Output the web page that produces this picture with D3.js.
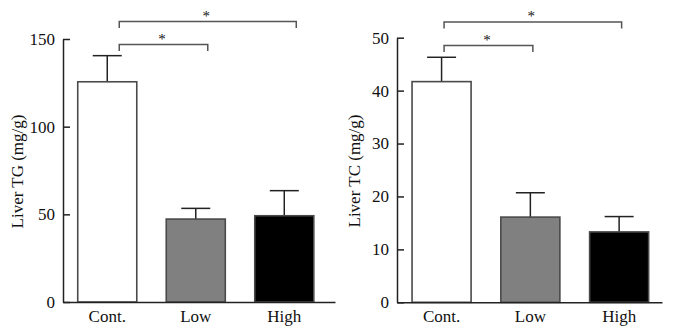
<!DOCTYPE html>
<html>
<head>
<meta charset="utf-8">
<script src="https://cdn.jsdelivr.net/npm/d3@7"></script>
<style>
  html, body { margin: 0; padding: 0; background: #fff; }
  svg { display: block; }
  text { font-family: "Liberation Serif", "DejaVu Serif", serif; fill: #111; }
</style>
</head>
<body>
<svg id="chart" width="674" height="335"></svg>
<script>
// ---- data ----
const categories = ["Cont.", "Low", "High"];
const barFills = ["#ffffff", "#808080", "#000000"];

const tgMeans = [125.6, 47.3, 49.2];
const tgErrors = [14.9, 6.1, 14.3];
const tgTicks = [0, 50, 100, 150];
const tgLabel = "Liver TG (mg/g)";

const tcMeans = [41.7, 16.1, 13.3];
const tcErrors = [4.6, 4.6, 2.9];
const tcTicks = [0, 10, 20, 30, 40, 50];
const tcLabel = "Liver TC (mg/g)";

// significance comparisons: [from index, to index, label]
const comparisons = [[0, 1, "*"], [0, 2, "*"]];

// ---- layout ----
const svg = d3.select("#chart");
const FONT = "Liberation Serif";

function drawPanel(opt) {
  const g = svg.append("g");
  const x = d3.scaleBand()
    .domain(categories)
    .range([opt.x0, opt.x1])
    .paddingInner(opt.padIn)
    .paddingOuter(opt.padOut)
    .align(opt.align);
  const y = d3.scaleLinear()
    .domain([0, opt.ticks[opt.ticks.length - 1]])
    .range([opt.yBottom, opt.yTop]);

  const data = categories.map((c, i) => ({ c, m: opt.means[i], e: opt.errors[i], fill: barFills[i] }));

  // error bars (upper only)
  const capHalf = 14.5;
  data.forEach(d => {
    const cx = x(d.c) + x.bandwidth() / 2;
    g.append("line").attr("x1", cx).attr("x2", cx)
      .attr("y1", y(d.m)).attr("y2", y(d.m + d.e))
      .attr("stroke", "#222").attr("stroke-width", 1.5);
    g.append("line").attr("x1", cx - capHalf).attr("x2", cx + capHalf)
      .attr("y1", y(d.m + d.e)).attr("y2", y(d.m + d.e))
      .attr("stroke", "#222").attr("stroke-width", 1.5);
  });

  // bars
  g.selectAll("rect.bar").data(data).enter().append("rect")
    .attr("class", "bar")
    .attr("x", d => x(d.c))
    .attr("y", d => y(d.m))
    .attr("width", x.bandwidth())
    .attr("height", d => y(0) - y(d.m))
    .attr("fill", d => d.fill)
    .attr("stroke", "#4a4a4a")
    .attr("stroke-width", 1.6);

  // y axis
  const yAxis = d3.axisLeft(y).tickValues(opt.ticks).tickSizeInner(-7).tickSizeOuter(0).tickPadding(8);
  const ya = g.append("g").attr("transform", `translate(${opt.x0},0)`).call(yAxis);
  ya.attr("font-size", null).attr("font-family", null);
  ya.select(".domain").attr("stroke", "#222").attr("stroke-width", 1.5);
  ya.selectAll(".tick line").attr("stroke", "#222").attr("stroke-width", 1.5);
  ya.selectAll(".tick text").attr("font-size", 17).attr("font-family", FONT).attr("fill", "#111");

  // x axis
  const xAxis = d3.axisBottom(x).tickSize(0).tickPadding(8);
  const xa = g.append("g").attr("transform", `translate(0,${opt.yBottom})`).call(xAxis);
  xa.attr("font-size", null).attr("font-family", null);
  xa.select(".domain").attr("stroke", "#222").attr("stroke-width", 1.5);
  xa.selectAll(".tick text").attr("font-size", 17).attr("font-family", FONT).attr("fill", "#111");

  // y label
  g.append("text")
    .attr("transform", `translate(${opt.labelX},${(opt.yTop + opt.yBottom) / 2 + 1}) rotate(-90)`)
    .attr("text-anchor", "middle")
    .attr("font-size", 17)
    .attr("font-family", FONT)
    .text(opt.label);

  // significance brackets
  const levels = [opt.bracketLow, opt.bracketHigh];
  comparisons.forEach((cmp, k) => {
    const xa0 = x(categories[cmp[0]]) + x.bandwidth() / 2 + opt.bracketOffset;
    const xb0 = x(categories[cmp[1]]) + x.bandwidth() / 2 + opt.bracketOffset;
    const by = levels[k];
    g.append("path")
      .attr("d", `M${xa0},${by + 6.5}V${by}H${xb0}V${by + 6.5}`)
      .attr("fill", "none").attr("stroke", "#555").attr("stroke-width", 1.5);
    g.append("text")
      .attr("x", (xa0 + xb0) / 2 - 1.5)
      .attr("y", by - 1)
      .attr("text-anchor", "middle")
      .attr("font-size", 15)
      .attr("font-family", FONT)
      .attr("fill", "#222")
      .text(cmp[2]);
  });
}

drawPanel({
  x0: 63, x1: 335, yTop: 39, yBottom: 302,
  padIn: 0.333, padOut: 0.203, align: 0.41,
  means: tgMeans, errors: tgErrors, ticks: tgTicks, label: tgLabel,
  labelX: 23, bracketLow: 44.5, bracketHigh: 21.5, bracketOffset: 12
});

drawPanel({
  x0: 397, x1: 662, yTop: 37.7, yBottom: 302.3,
  padIn: 0.335, padOut: 0.16, align: 0.53,
  means: tcMeans, errors: tcErrors, ticks: tcTicks, label: tcLabel,
  labelX: 360, bracketLow: 45.5, bracketHigh: 22, bracketOffset: 2.5
});
</script>
</body>
</html>
